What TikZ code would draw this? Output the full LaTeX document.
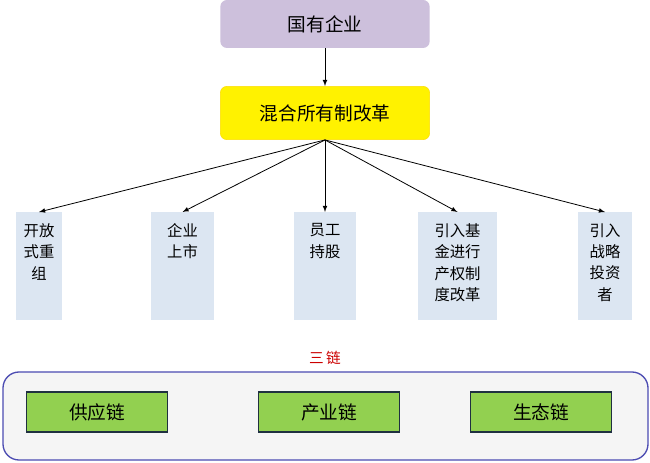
\documentclass[tikz,border=0pt]{standalone}
\usepackage{fontspec}
\setmainfont{Noto Sans CJK SC}
\newcommand{\boxtxt}[2]{\parbox[c][72pt][t]{#1}{\centering\vspace*{4pt}#2}}
\begin{document}
\begin{tikzpicture}[x=0.75pt,y=-0.75pt,
  top/.style={rounded corners=5pt,font=\fontsize{14}{16}\selectfont},
  sub/.style={fill=subc,anchor=north,inner xsep=0pt,inner ysep=4.5pt,font=\fontsize{11.5}{16}\selectfont},
  chain/.style={fill=chgreen,draw=chborder,line width=1.2pt,minimum width=106pt,minimum height=30pt,font=\fontsize{14}{16}\selectfont},
  arr/.style={-latex,black,line width=0.6pt}]
\definecolor{subc}{HTML}{DCE6F2}
\definecolor{chgreen}{HTML}{92D050}
\definecolor{chborder}{HTML}{1F3040}
\definecolor{lav}{HTML}{CDC0DC}
\useasboundingbox[fill=white] (0,0) rectangle (650,463);
\node[top,fill=lav,minimum width=157pt,minimum height=36pt] (soe) at (325,24) {国有企业};
\node[top,fill=yellow,draw=yellow!80!orange,minimum width=157pt,minimum height=40pt] (mix) at (325,113) {混合所有制改革};
\draw[arr] (soe) -- (mix);
\node[sub] (b1) at (39,212) {\boxtxt{34.5pt}{开放\\式重\\组}};
\node[sub] (b2) at (182.5,212) {\boxtxt{47pt}{企业\\上市}};
\node[sub] (b3) at (325,212) {\boxtxt{46.5pt}{员工\\持股}};
\node[sub] (b4) at (457.5,212) {\boxtxt{59pt}{引入基\\金进行\\产权制\\度改革}};
\node[sub] (b5) at (605,212) {\boxtxt{40.5pt}{引入\\战略\\投资\\者}};
\foreach \b in {b1,b2,b3,b4,b5} \draw[arr] (mix.south) -- (\b.north);
\node[text=red!80!black,font=\fontsize{11}{13}\selectfont] (san) at (325,358) {三\,链};
\draw[rounded corners=12pt,fill=gray!8,draw=gray!60!blue,line width=1pt] (3,372) rectangle (648,460);
\node[chain] (c1) at (97,412) {供应链};
\node[chain] (c2) at (329,412) {产业链};
\node[chain] (c3) at (541,412) {生态链};
\end{tikzpicture}
\end{document}
